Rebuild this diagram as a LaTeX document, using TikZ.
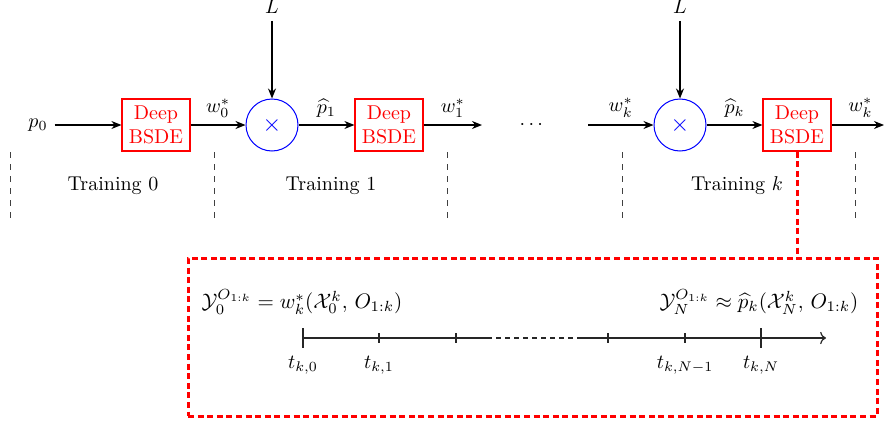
\documentclass[tikz,border=0pt]{standalone}
\usepackage{amsmath,amssymb}
\usetikzlibrary{arrows.meta,calc}
\definecolor{pured}{RGB}{255,0,0}
\begin{document}
\begin{tikzpicture}[x=0.5pt,y=-0.5pt,
  arr/.style={-{Stealth[length=5pt,width=4pt]},line width=0.7pt},
  bsde/.style={rectangle,draw=pured,text=pured,align=center,minimum width=34pt,minimum height=26pt,inner sep=1pt,line width=0.6pt},
  mult/.style={draw=blue,text=blue,circle,minimum size=26pt,inner sep=0pt,line width=0.5pt,font=\large},
  sep/.style={dashed,black!75,line width=0.45pt},
  reddash/.style={draw=pured,line width=1.5pt,dash pattern=on 3pt off 1.8pt},
  tl/.style={line width=0.6pt,black!85}]
\useasboundingbox (0,0) rectangle (884,423);
% top row
\node (p0) at (38,125) {$p_0$};
\node[bsde] (b1) at (156,125) {Deep\\BSDE};
\node[mult] (c1) at (272,125) {$\times$};
\node[bsde] (b2) at (389,125) {Deep\\BSDE};
\coordinate (e1) at (482,125);
\node (dots) at (533,125) {$\cdots$};
\coordinate (s2) at (588,125);
\node[mult] (c2) at (680,125) {$\times$};
\node[bsde] (b3) at (797,125) {Deep\\BSDE};
\coordinate (e3) at (884,125);
\node (L1) at (272,7) {$L$};
\node (L2) at (680,7) {$L$};
\draw[arr] (p0) -- (b1);
\draw[arr] (b1) -- node[above] {$w_0^*$} (c1);
\draw[arr] (c1) -- node[above] {$\widehat{p}_1$} (b2);
\draw[arr] (b2) -- node[above] {$w_1^*$} (e1);
\draw[arr] (s2) -- node[above] {$w_k^*$} (c2);
\draw[arr] (c2) -- node[above] {$\widehat{p}_k$} (b3);
\draw[arr] (b3) -- node[above,pos=0.55] {$w_k^*$} (e3);
\draw[arr] (L1) -- (c1);
\draw[arr] (L2) -- (c2);
% separators
\foreach \x/\n in {10/a,214/b,447/c,622/d,855/e}{
  \coordinate (d\n1) at (\x,152); \coordinate (d\n2) at (\x,222);
  \draw[sep] (d\n1) -- (d\n2);}
\node (tr0) at (113,186) {Training 0};
\node (tr1) at (331,186) {Training 1};
\node (trk) at (737,186) {Training $k$};
% zoom frame
\node[reddash,minimum width=344.5pt,minimum height=79pt,inner sep=0pt] (frame) at (532.5,337) {};
\draw[reddash] (b3.south) -- (b3.south |- frame.north);
\node[scale=1.05] (f0) at (302,302) {$\mathcal{Y}_0^{O_{1:k}} = w_k^*(\mathcal{X}_0^k,\, O_{1:k})$};
\node[scale=1.05] (fN) at (759,302) {$\mathcal{Y}_N^{O_{1:k}} \approx \widehat{p}_k(\mathcal{X}_N^k,\, O_{1:k})$};
% timeline
\coordinate (t0) at (303,338);
\coordinate (t1) at (379,338);
\coordinate (t2) at (456,338);
\coordinate (m1) at (487,338);
\coordinate (m2) at (582,338);
\coordinate (t3) at (608,338);
\coordinate (t4) at (685,338);
\coordinate (t5) at (761,338);
\coordinate (tend) at (826,338);
\draw[tl] (t0) -- (m1);
\draw[tl,dash pattern=on 2.5pt off 2pt] (m1) -- (m2);
\draw[tl,->] (m2) -- (tend);
\foreach \c in {t1,t2,t3,t4}{\draw[tl] ($(\c)+(0,-5)$) -- ($(\c)+(0,5)$);}
\foreach \c in {t0,t5}{\draw[tl,line width=0.8pt] ($(\c)+(0,-10)$) -- ($(\c)+(0,10)$);}
\node (l0) at (303,365) {$t_{k,0}$};
\node (l1) at (379,365) {$t_{k,1}$};
\node (l4) at (685,365) {$t_{k,N-1}$};
\node (l5) at (761,365) {$t_{k,N}$};
\end{tikzpicture}
\end{document}
